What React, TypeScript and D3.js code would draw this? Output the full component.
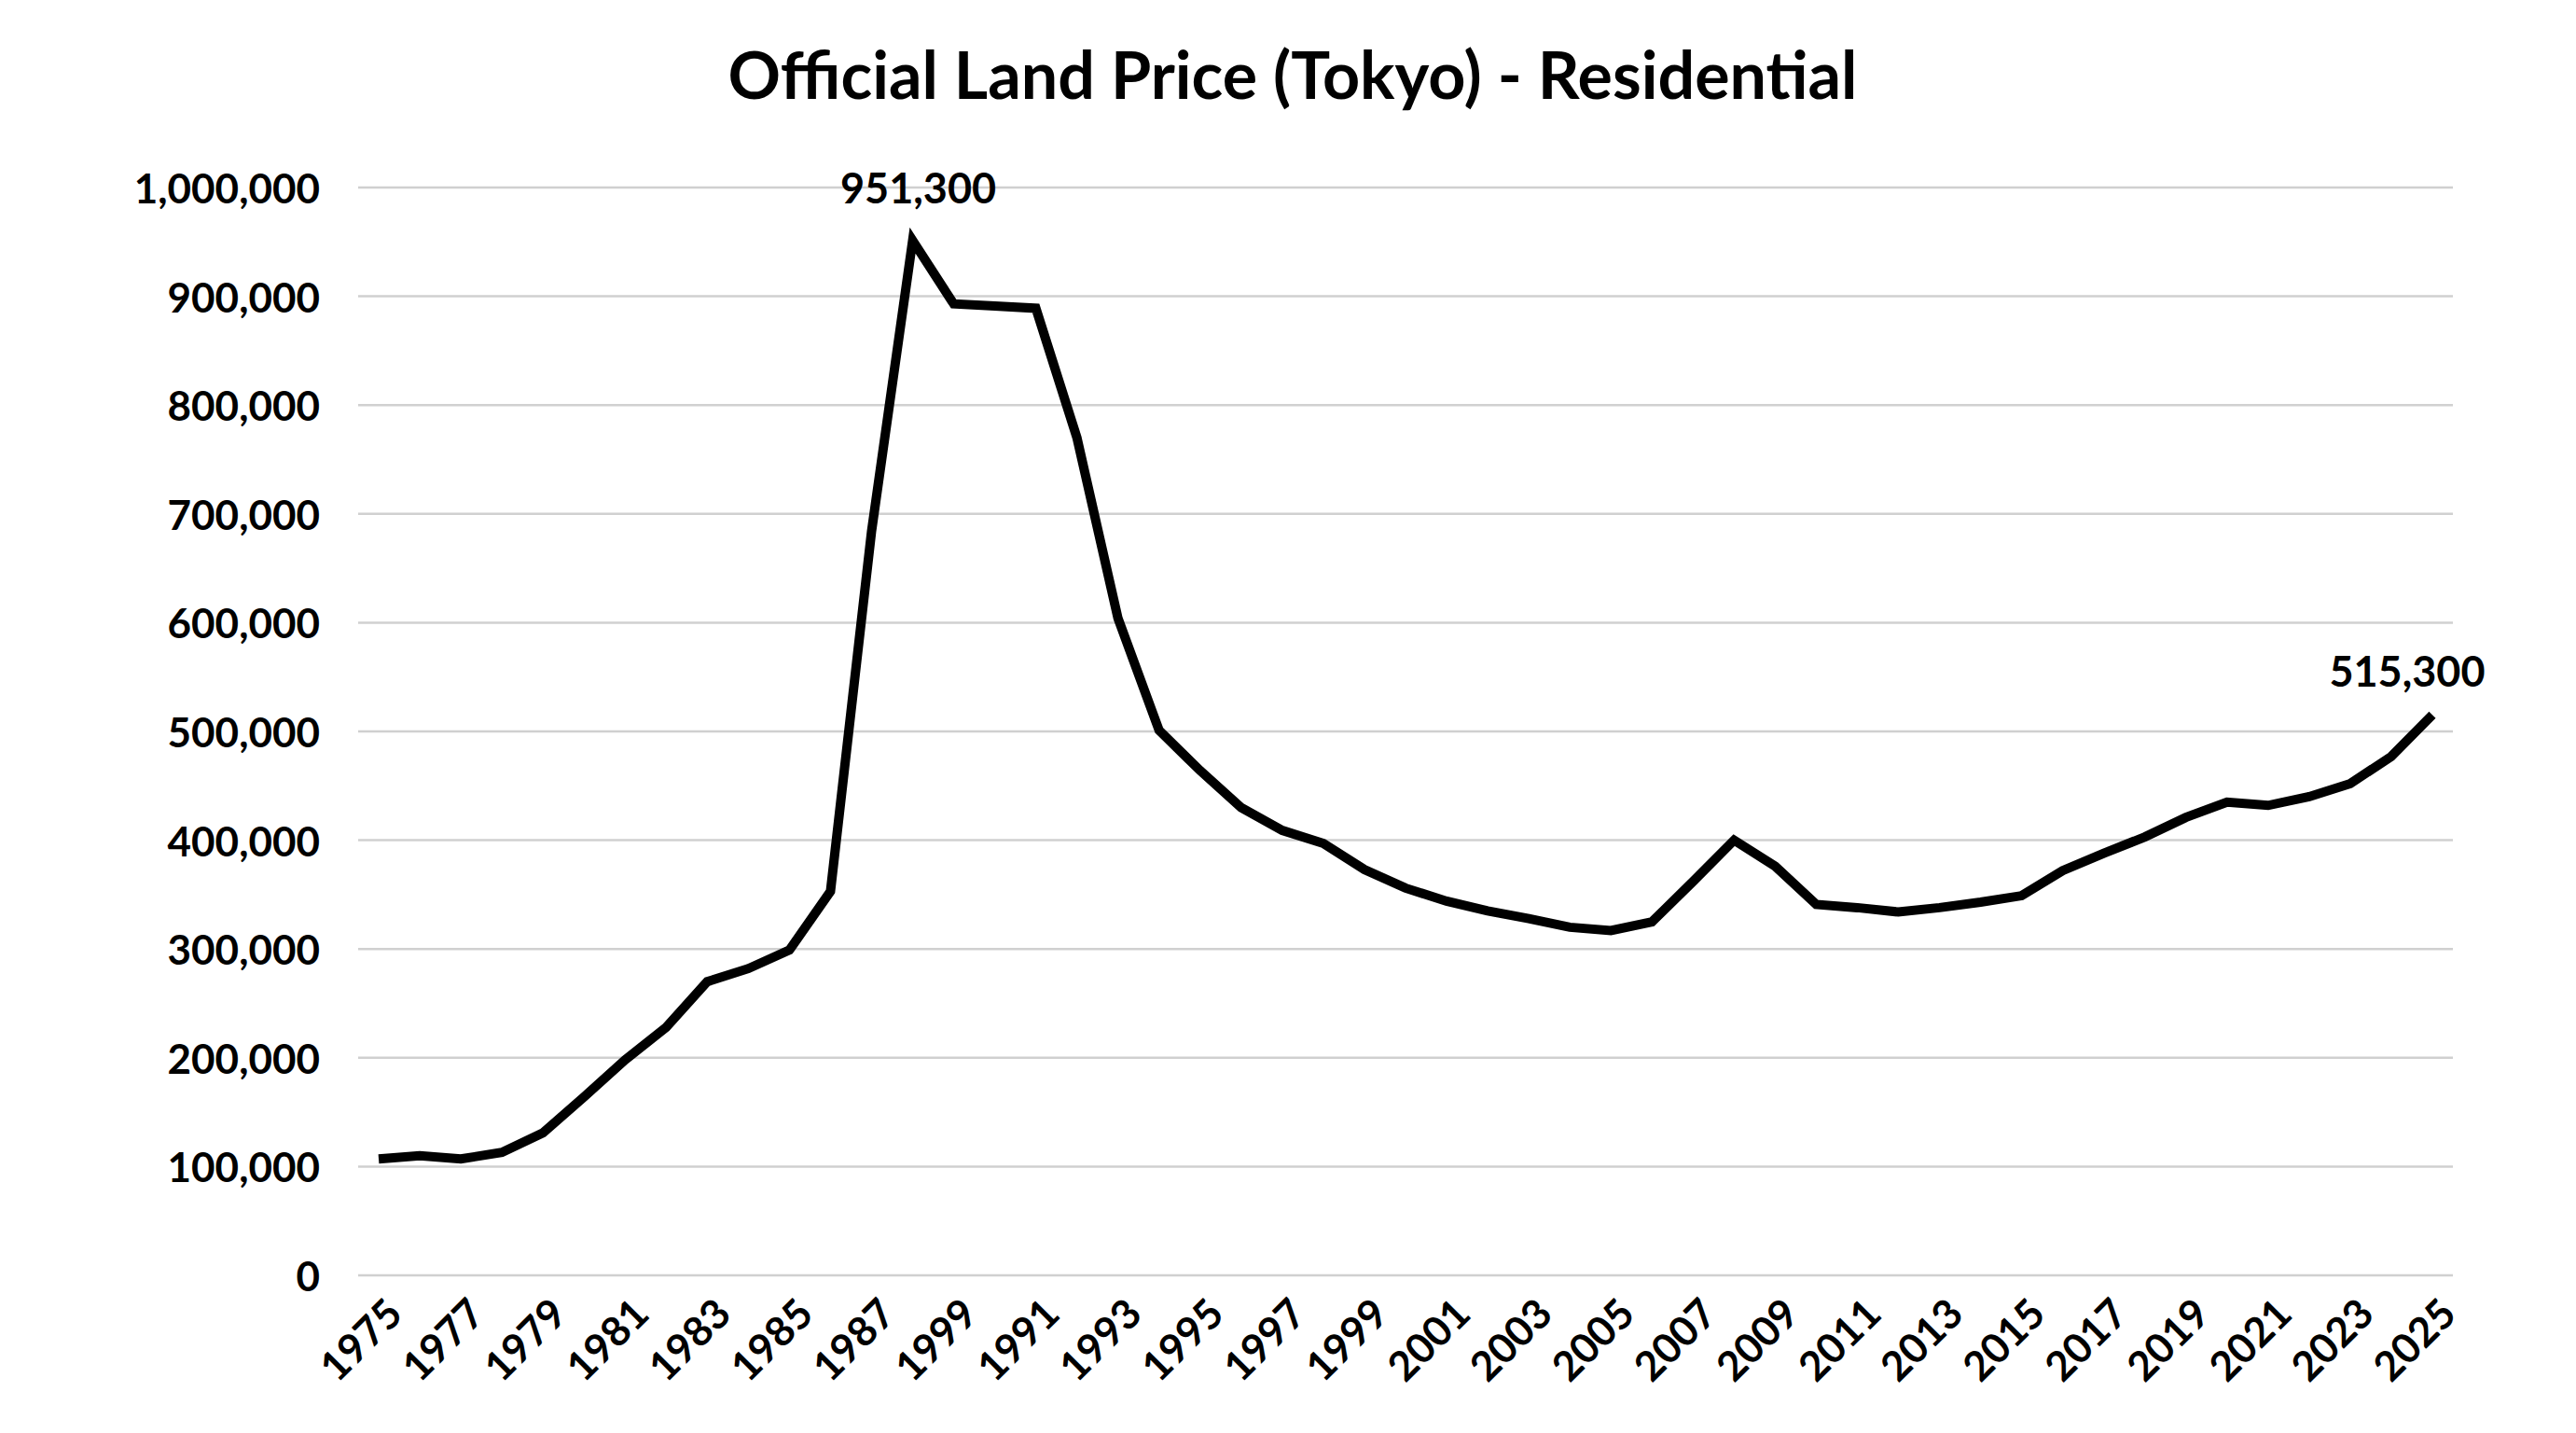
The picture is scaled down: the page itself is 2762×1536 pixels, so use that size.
import React from "react";
import * as d3 from "d3";

const years = d3.range(1975, 2026).map(String);
const tickLabels = ["1975","1977","1979","1981","1983","1985","1987","1999","1991","1993","1995","1997","1999","2001","2003","2005","2007","2009","2011","2013","2015","2017","2019","2021","2023","2025"];
const prices = [107000,110000,107000,113000,131000,164000,198000,228000,270000,282000,299000,353000,684000,951300,893000,891000,889000,770000,604000,501000,464000,430000,409000,397000,373000,356000,344000,335000,328000,320000,317000,325000,362000,400000,376000,341000,338000,334000,338000,343000,349000,372000,388000,403000,421000,435000,432000,440000,452000,477000,515300];
const yTicks = d3.range(0, 1000001, 100000);
const annotated = [13, 50];

export default function App() {
  const W = 2762, H = 1536;
  const left = 384, right = 2630, top = 201, bottom = 1367;
  const x = d3.scalePoint().domain(years).range([left, right]).padding(0.5);
  const y = d3.scaleLinear().domain([0, 1000000]).range([bottom, top]);
  const line = d3.line<number>().x((_, i) => x(years[i])!).y(d => y(d));
  const fmt = d3.format(",");
  const font = "Lato, 'Open Sans', sans-serif";
  return (
    <svg width={W} height={H} style={{ display: "block", position: "absolute", left: 0, top: 0 }} fontFamily={font} fontWeight="900">
      <rect width={W} height={H} fill="#fff" />
      <text x={1386} y={79} textAnchor="middle" dominantBaseline="central" fontSize={70} fontWeight="bold">Official Land Price (Tokyo) - Residential</text>
      {yTicks.map(t => (
        <g key={t}>
          <line x1={left} x2={right} y1={y(t)} y2={y(t)} stroke="#d0d0d0" strokeWidth={2.5} />
          <text x={343} y={y(t)} textAnchor="end" dominantBaseline="central" fontSize={44} fontWeight="bold">{fmt(t)}</text>
        </g>
      ))}
      {years.map((yr, i) => i % 2 === 0 ? (
        <text key={yr} transform={`translate(${x(yr)! + 16},${bottom + 32}) rotate(-45)`} textAnchor="end" dominantBaseline="central" fontSize={44} fontWeight="bold">{tickLabels[i / 2]}</text>
      ) : null)}
      <path d={line(prices)!} fill="none" stroke="#000" strokeWidth={10} strokeLinejoin="miter" />
      {annotated.map(i => (
        <text key={i} x={x(years[i])! + (i === 50 ? -27 : 6)} y={y(prices[i]) - (i === 50 ? 30 : 40)} textAnchor="middle" fontSize={45} fontWeight="bold">{fmt(prices[i])}</text>
      ))}
    </svg>
  );
}
